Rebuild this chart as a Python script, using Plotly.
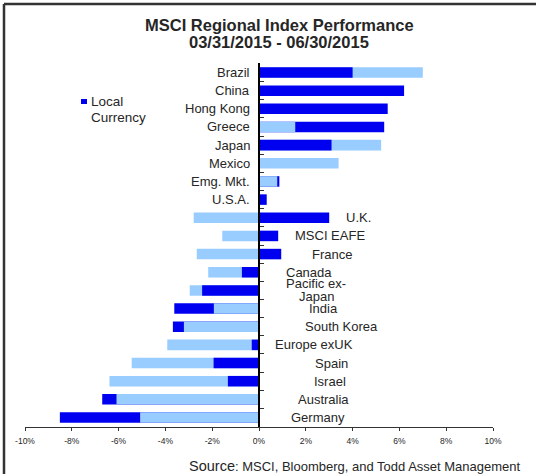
import plotly.graph_objects as go

# ---------------- data ----------------
categories = ["Brazil", "China", "Hong Kong", "Greece", "Japan", "Mexico", "Emg. Mkt.",
              "U.S.A.", "U.K.", "MSCI EAFE", "France", "Canada", "Pacific ex-<br>Japan",
              "India", "South Korea", "Europe exUK", "Spain", "Israel", "Australia", "Germany"]
local_ccy = [4.0, 6.2, 5.5, 5.35, 3.1, None, 0.87, 0.33, 3.0, 0.82, 0.95, -0.73, -2.43,
             -3.62, -3.68, -0.31, -1.94, -1.33, -6.70, -8.51]
usd = [7.0, None, None, 1.55, 5.22, 3.40, 0.78, None, -2.79, -1.57, -2.66, -2.17, -2.96,
       -1.93, -3.21, -3.92, -5.44, -6.39, -6.09, -5.08]
tick_vals = [-10, -8, -6, -4, -2, 0, 2, 4, 6, 8, 10]
tick_text = ["-10%", "-8%", "-6%", "-4%", "-2%", "0%", "2%", "4%", "6%", "8%", "10%"]

DARK = "#0000F0"
LIGHT = "#99CCFF"
FONT = "Liberation Sans, Arial, sans-serif"
TXT = "#262626"

W, H = 536, 474
L, R, T, B = 25, 43, 63, 47
PW, PH = W - L - R, H - T - B


def px(x):
    return (x - L) / PW


def py(y):
    return 1 - (y - T) / PH


# the shorter bar of each pair is drawn in front of the longer one
def split(a, b):
    back_a, back_b, front_a, front_b = [], [], [], []
    for va, vb in zip(a, b):
        ma = abs(va) if va is not None else -1
        mb = abs(vb) if vb is not None else -1
        if ma >= mb:
            back_a.append(va); back_b.append(None)
            front_a.append(None); front_b.append(vb)
        else:
            back_a.append(None); back_b.append(vb)
            front_a.append(va); front_b.append(None)
    return back_a, back_b, front_a, front_b


back_l, back_u, front_l, front_u = split(local_ccy, usd)

fig = go.Figure()
for vals, col, name in [(back_l, DARK, "Local Currency"), (back_u, LIGHT, "US Dollar"),
                        (front_l, DARK, "Local Currency"), (front_u, LIGHT, "US Dollar")]:
    fig.add_trace(go.Bar(x=vals, y=categories, orientation="h", marker_color=col,
                         marker_line_width=0, width=0.58, name=name, showlegend=False,
                         hoverinfo="x+y"))

# category labels
right_offsets = {"U.K.": 99, "MSCI EAFE": 71, "France": 73, "Canada": 50,
                 "Pacific ex-<br>Japan": 57, "India": 64, "South Korea": 82,
                 "Europe exUK": 55, "Spain": 72, "Israel": 71, "Australia": 64, "Germany": 59}
LBL = dict(family=FONT, size=13, color=TXT)
annotations = []
for c, a, b in zip(categories, local_ccy, usd):
    vals = [v for v in (a, b) if v is not None]
    lines = c.split("<br>")
    n = len(lines)
    for i, line in enumerate(lines):
        ys = (n - 1) * 6.5 - i * 13
        if min(vals) >= 0:
            annotations.append(dict(x=0, y=c, xref="x", yref="y", text=line, showarrow=False,
                                    xanchor="right", xshift=-7, yshift=ys, yanchor="middle",
                                    font=LBL))
        else:
            annotations.append(dict(x=0, y=c, xref="x", yref="y", text=line, showarrow=False,
                                    xanchor="center", xshift=right_offsets.get(c, 65),
                                    yshift=ys, yanchor="middle", font=LBL))

# title
TF = dict(family=FONT, size=16.5, color=TXT)
annotations.append(dict(x=px(279), y=py(25), xref="paper", yref="paper",
                        text="<b>MSCI Regional Index Performance</b>",
                        showarrow=False, xanchor="center", yanchor="middle", font=TF))
annotations.append(dict(x=px(279), y=py(42), xref="paper", yref="paper",
                        text="<b>03/31/2015 - 06/30/2015</b>",
                        showarrow=False, xanchor="center", yanchor="middle", font=TF))
# legend
LF = dict(family=FONT, size=13.5, color=TXT)
annotations.append(dict(x=px(89), y=py(102), xref="paper", yref="paper",
                        text="Local", showarrow=False, xanchor="left",
                        yanchor="middle", font=LF))
annotations.append(dict(x=px(89), y=py(117), xref="paper", yref="paper",
                        text="Currency", showarrow=False, xanchor="left",
                        yanchor="middle", font=LF))
# source
annotations.append(dict(x=px(523), y=py(466), xref="paper", yref="paper",
                        text="<span style='font-size:14.5px'>Source</span>: MSCI, Bloomberg, and Todd Asset Management",
                        showarrow=False, xanchor="right", yanchor="middle",
                        font=dict(family=FONT, size=13, color=TXT)))

shapes = [
    dict(type="rect", xref="paper", yref="paper", x0=px(81), x1=px(87), y0=py(99), y1=py(104),
         fillcolor=DARK, line_width=0),
    dict(type="line", xref="paper", yref="paper", x0=px(4), x1=px(536), y0=py(4), y1=py(4),
         line=dict(color="#333333", width=2.5)),
    dict(type="line", xref="paper", yref="paper", x0=px(4), x1=px(4), y0=py(4), y1=py(474),
         line=dict(color="#333333", width=2.5)),
]

fig.update_layout(
    width=W, height=H, margin=dict(l=L, r=R, t=T, b=B, pad=0),
    paper_bgcolor="white", plot_bgcolor="white", barmode="overlay",
    annotations=annotations, shapes=shapes, showlegend=False,
    font=dict(family=FONT, color=TXT),
    xaxis=dict(range=[-10, 10], tickvals=tick_vals, ticktext=tick_text, showgrid=False,
               zeroline=False, showline=True, linecolor="#333333", linewidth=1.2,
               ticks="outside", ticklen=3, tickcolor="#333333", ticklabelstandoff=3,
               tickfont=dict(family=FONT, size=8.5, color=TXT), fixedrange=True),
    yaxis=dict(categoryorder="array", categoryarray=categories, autorange="reversed",
               anchor="free", position=0.5, showline=True, linecolor="black", linewidth=1.5,
               showticklabels=False, ticks="inside", tickson="boundaries", ticklen=4,
               tickcolor="#333333", showgrid=False, zeroline=False, fixedrange=True),
)

fig.write_html("out.html", config={"displayModeBar": False},
               post_script="document.body.style.margin='0';document.body.style.overflow='hidden';"
                           "document.documentElement.style.overflow='hidden';")
